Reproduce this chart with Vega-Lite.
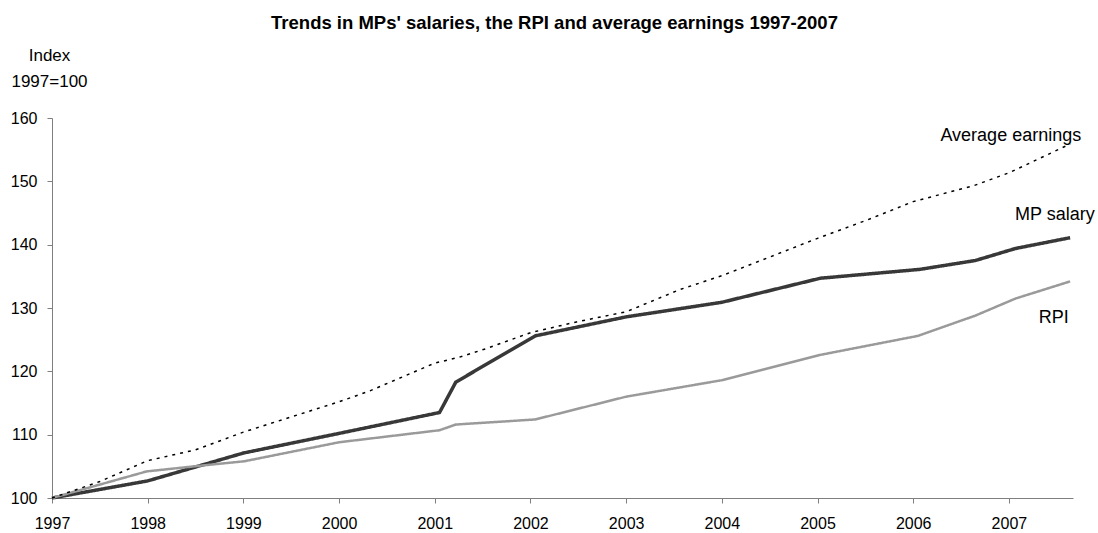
{
  "$schema": "https://vega.github.io/schema/vega-lite/v6.json",
  "autosize": {"type": "none"},
  "width": 1021,
  "height": 380,
  "padding": {"left": 52, "top": 118, "right": 25, "bottom": 35},
  "background": "white",
  "title": {
    "text": "Trends in MPs' salaries, the RPI and average earnings 1997-2007",
    "font": "Liberation Sans",
    "fontSize": 18.5,
    "fontWeight": "bold",
    "color": "black",
    "anchor": "middle",
    "frame": "group",
    "dx": -8,
    "offset": 14
  },
  "config": {
    "view": {"stroke": null},
    "axis": {"grid": false}
  },
  "datasets": {
    "lines": [
      {"series": "MP salary", "year": 1997.0, "index": 100},
      {"series": "MP salary", "year": 1998.0, "index": 102.7},
      {"series": "MP salary", "year": 1999.0, "index": 107.1},
      {"series": "MP salary", "year": 2000.0, "index": 110.2},
      {"series": "MP salary", "year": 2001.05, "index": 113.5},
      {"series": "MP salary", "year": 2001.22, "index": 118.3},
      {"series": "MP salary", "year": 2002.05, "index": 125.6},
      {"series": "MP salary", "year": 2003.0, "index": 128.6},
      {"series": "MP salary", "year": 2004.0, "index": 130.9},
      {"series": "MP salary", "year": 2005.03, "index": 134.7},
      {"series": "MP salary", "year": 2006.07, "index": 136.1},
      {"series": "MP salary", "year": 2006.65, "index": 137.5},
      {"series": "MP salary", "year": 2007.07, "index": 139.4},
      {"series": "MP salary", "year": 2007.64, "index": 141.1},
      {"series": "RPI", "year": 1997.0, "index": 100},
      {"series": "RPI", "year": 1997.99, "index": 104.2},
      {"series": "RPI", "year": 1998.55, "index": 105.1},
      {"series": "RPI", "year": 1999.01, "index": 105.8},
      {"series": "RPI", "year": 2000.0, "index": 108.8},
      {"series": "RPI", "year": 2001.05, "index": 110.7},
      {"series": "RPI", "year": 2001.22, "index": 111.6},
      {"series": "RPI", "year": 2002.05, "index": 112.4},
      {"series": "RPI", "year": 2003.0, "index": 116.0},
      {"series": "RPI", "year": 2004.0, "index": 118.6},
      {"series": "RPI", "year": 2005.03, "index": 122.6},
      {"series": "RPI", "year": 2006.05, "index": 125.6},
      {"series": "RPI", "year": 2006.65, "index": 128.8},
      {"series": "RPI", "year": 2007.07, "index": 131.5},
      {"series": "RPI", "year": 2007.64, "index": 134.2},
      {"series": "Average earnings", "year": 1997.0, "index": 100},
      {"series": "Average earnings", "year": 1997.5, "index": 102.6},
      {"series": "Average earnings", "year": 1998.0, "index": 105.9},
      {"series": "Average earnings", "year": 1998.5, "index": 107.6},
      {"series": "Average earnings", "year": 1999.0, "index": 110.4},
      {"series": "Average earnings", "year": 1999.5, "index": 112.8},
      {"series": "Average earnings", "year": 2000.0, "index": 115.2},
      {"series": "Average earnings", "year": 2000.32, "index": 116.9},
      {"series": "Average earnings", "year": 2001.0, "index": 121.3},
      {"series": "Average earnings", "year": 2001.25, "index": 122.2},
      {"series": "Average earnings", "year": 2001.54, "index": 123.6},
      {"series": "Average earnings", "year": 2002.0, "index": 126.1},
      {"series": "Average earnings", "year": 2002.48, "index": 127.8},
      {"series": "Average earnings", "year": 2003.0, "index": 129.4},
      {"series": "Average earnings", "year": 2003.56, "index": 132.9},
      {"series": "Average earnings", "year": 2004.0, "index": 135.1},
      {"series": "Average earnings", "year": 2004.51, "index": 138.1},
      {"series": "Average earnings", "year": 2005.0, "index": 141.0},
      {"series": "Average earnings", "year": 2005.52, "index": 143.9},
      {"series": "Average earnings", "year": 2006.0, "index": 146.8},
      {"series": "Average earnings", "year": 2006.63, "index": 149.3},
      {"series": "Average earnings", "year": 2007.01, "index": 151.4},
      {"series": "Average earnings", "year": 2007.64, "index": 155.9}
    ],
    "labels": [
      {"label": "Average earnings", "year": 2007.02, "index": 156.3},
      {"label": "MP salary", "year": 2007.48, "index": 143.9},
      {"label": "RPI", "year": 2007.47, "index": 127.6}
    ]
  },
  "layer": [
    {
      "data": {"name": "lines"},
      "mark": {"type": "line", "interpolate": "linear", "clip": false},
      "encoding": {
        "x": {
          "field": "year",
          "type": "quantitative",
          "scale": {"domain": [1997, 2007.67], "nice": false, "zero": false},
          "axis": {
            "title": null,
            "values": [1997, 1998, 1999, 2000, 2001, 2002, 2003, 2004, 2005, 2006, 2007],
            "format": "d",
            "domainColor": "#7f7f7f",
            "tickColor": "#7f7f7f",
            "tickSize": 5,
            "labelPadding": 12,
            "labelFont": "Liberation Sans",
            "labelFontSize": 16,
            "labelColor": "black",
            "labelFlush": false
          }
        },
        "y": {
          "field": "index",
          "type": "quantitative",
          "scale": {"domain": [100, 160], "nice": false, "zero": false},
          "axis": {
            "title": ["Index", "1997=100"],
            "titleAngle": 0,
            "titleAlign": "center",
            "titleBaseline": "alphabetic",
            "titleX": -3,
            "titleY": -58,
            "titleLineHeight": 26.7,
            "titleFont": "Liberation Sans",
            "titleFontSize": 17,
            "titleFontWeight": "normal",
            "titleColor": "black",
            "values": [100, 110, 120, 130, 140, 150, 160],
            "domainColor": "#7f7f7f",
            "tickColor": "#7f7f7f",
            "tickSize": 5,
            "labelPadding": 10,
            "labelFont": "Liberation Sans",
            "labelFontSize": 16,
            "labelColor": "black",
            "labelFlush": false
          }
        },
        "detail": {"field": "series"},
        "color": {
          "field": "series",
          "type": "nominal",
          "scale": {"domain": ["MP salary", "RPI", "Average earnings"], "range": ["#383838", "#9a9a9a", "#000000"]},
          "legend": null
        },
        "strokeWidth": {
          "field": "series",
          "type": "nominal",
          "scale": {"domain": ["MP salary", "RPI", "Average earnings"], "range": [3.5, 1.5, 1.5]},
          "legend": null
        },
        "strokeDash": {
          "field": "series",
          "type": "nominal",
          "scale": {"domain": ["MP salary", "RPI", "Average earnings"], "range": [[1, 0], [1, 0], [3, 5]]},
          "legend": null
        },
        "order": {"field": "year", "type": "quantitative"}
      }
    },
    {
      "data": {"name": "labels"},
      "mark": {
        "type": "text",
        "align": "center",
        "baseline": "alphabetic",
        "font": "Liberation Sans",
        "fontSize": 18,
        "color": "black",
        "clip": false
      },
      "encoding": {
        "x": {"field": "year", "type": "quantitative"},
        "y": {"field": "index", "type": "quantitative"},
        "text": {"field": "label"}
      }
    }
  ]
}
